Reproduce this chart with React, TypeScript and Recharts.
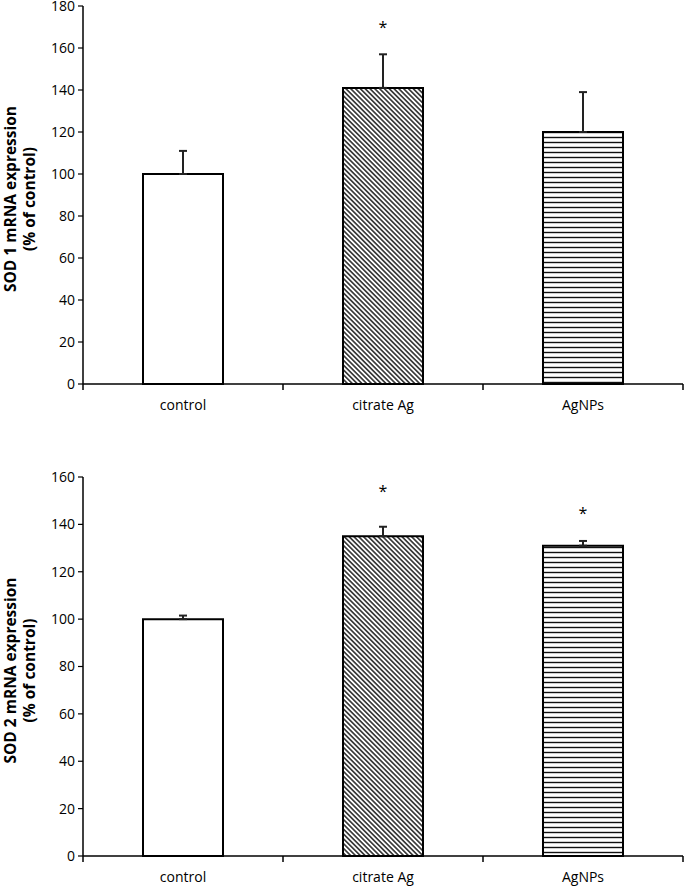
import React from 'react';
import { ComposedChart, Bar, XAxis, YAxis, ErrorBar, Scatter, Cell } from 'recharts';

const categories = ['control', 'citrate Ag', 'AgNPs'];
const sod1Values = [100, 141, 120];
const sod1Errors = [11, 16, 19];
const sod1Stars = [null, 170, null];
const sod2Values = [100, 135, 131];
const sod2Errors = [1.5, 4, 2];
const sod2Stars = [null, 154, 145];
const sod1Ticks = [0, 20, 40, 60, 80, 100, 120, 140, 160, 180];
const sod2Ticks = [0, 20, 40, 60, 80, 100, 120, 140, 160];
const fills = ['#ffffff', 'url(#diag)', 'url(#horiz)'];

const FONT = '"Open Sans", Lato, sans-serif';

const build = (vals: number[], errs: number[], stars: (number | null)[]) =>
  categories.map((c, i) => ({ name: c, value: vals[i], err: [0, errs[i]], star: stars[i] }));

const StarShape = (props: any) => {
  if (props.cx == null || props.cy == null || props.payload?.star == null) return null;
  return (
    <text x={props.cx} y={props.cy + 6} textAnchor="middle" fontSize={16} fontFamily={FONT} fill="#000" stroke="none">
      *
    </text>
  );
};

const CatTick = (props: any) => {
  const { x, y, payload, visibleTicksCount } = props;
  const half = payload.offset || 0;
  const axisY = y - 16;
  const last = payload.index === visibleTicksCount - 1;
  return (
    <g>
      <line x1={x - half} y1={axisY} x2={x - half} y2={axisY + 6} stroke="#000" strokeWidth={1.5} />
      {last && <line x1={x + half} y1={axisY} x2={x + half} y2={axisY + 6} stroke="#000" strokeWidth={1.5} />}
      <text x={x} y={y} dy="0.71em" textAnchor="middle" fontSize={14} fontFamily={FONT} fill="#000">
        {payload.value}
      </text>
    </g>
  );
};

const YLabel = (line1: string) => (props: any) => {
  const vb = props.viewBox || {};
  const cy = vb.y + vb.height / 2 + 4;
  return (
    <g>
      <text x={10} y={cy} transform={`rotate(-90, 10, ${cy})`} textAnchor="middle" dominantBaseline="central" fontSize={15.5} fontWeight="bold" fontFamily={FONT} fill="#000">
        {line1}
      </text>
      <text x={29} y={cy} transform={`rotate(-90, 29, ${cy})`} textAnchor="middle" dominantBaseline="central" fontSize={15.5} fontWeight="bold" fontFamily={FONT} fill="#000">
        (% of control)
      </text>
    </g>
  );
};

const Chart = ({ data, ticks, max, label, height, marginTop }: any) => (
  <ComposedChart width={685} height={height} data={data} margin={{ top: marginTop, right: 2, bottom: 0, left: 0 }}>
    <defs>
      <pattern id="diag" patternUnits="userSpaceOnUse" width={4} height={3.4} patternTransform="rotate(45)">
        <rect x={0} y={0} width={4} height={3.4} fill="#fff" />
        <line x1={0} y1={1.7} x2={4} y2={1.7} stroke="#222" strokeWidth={1.5} />
      </pattern>
      <pattern id="horiz" patternUnits="userSpaceOnUse" width={6} height={5}>
        <rect x={0} y={0} width={6} height={5} fill="#fff" />
        <line x1={0} y1={2.5} x2={6} y2={2.5} stroke="#111" strokeWidth={1.4} />
      </pattern>
    </defs>
    <XAxis
      dataKey="name"
      axisLine={{ stroke: '#000', strokeWidth: 1.5 }}
      tickLine={false}
      tickSize={0}
      tickMargin={16}
      height={36}
      tick={<CatTick />}
      interval={0}
    />
    <YAxis
      domain={[0, max]}
      ticks={ticks}
      width={83}
      interval={0}
      tickSize={5}
      tickMargin={3}
      axisLine={{ stroke: '#000', strokeWidth: 1.5 }}
      tickLine={{ stroke: '#000', strokeWidth: 1.2 }}
      tick={{ fontSize: 14, fontFamily: FONT, fill: '#000' }}
      label={YLabel(label)}
    />
    <Bar dataKey="value" barSize={80} stroke="#000" strokeWidth={2} isAnimationActive={false}>
      {data.map((_: any, i: number) => (
        <Cell key={i} fill={fills[i]} />
      ))}
      <ErrorBar dataKey="err" width={4} stroke="#222" strokeWidth={2} direction="y" />
    </Bar>
    <Scatter dataKey="star" shape={<StarShape />} isAnimationActive={false} />
  </ComposedChart>
);

export default function App() {
  return (
    <div style={{ position: 'absolute', top: 0, left: 0, width: 685, height: 887, background: '#fff', overflow: 'hidden' }}>
      <div style={{ position: 'absolute', top: 0, left: 0 }}>
        <Chart data={build(sod1Values, sod1Errors, sod1Stars)} ticks={sod1Ticks} max={180} label="SOD 1 mRNA expression" height={420} marginTop={6} />
      </div>
      <div style={{ position: 'absolute', top: 440, left: 0 }}>
        <Chart data={build(sod2Values, sod2Errors, sod2Stars)} ticks={sod2Ticks} max={160} label="SOD 2 mRNA expression" height={452} marginTop={37} />
      </div>
    </div>
  );
}
